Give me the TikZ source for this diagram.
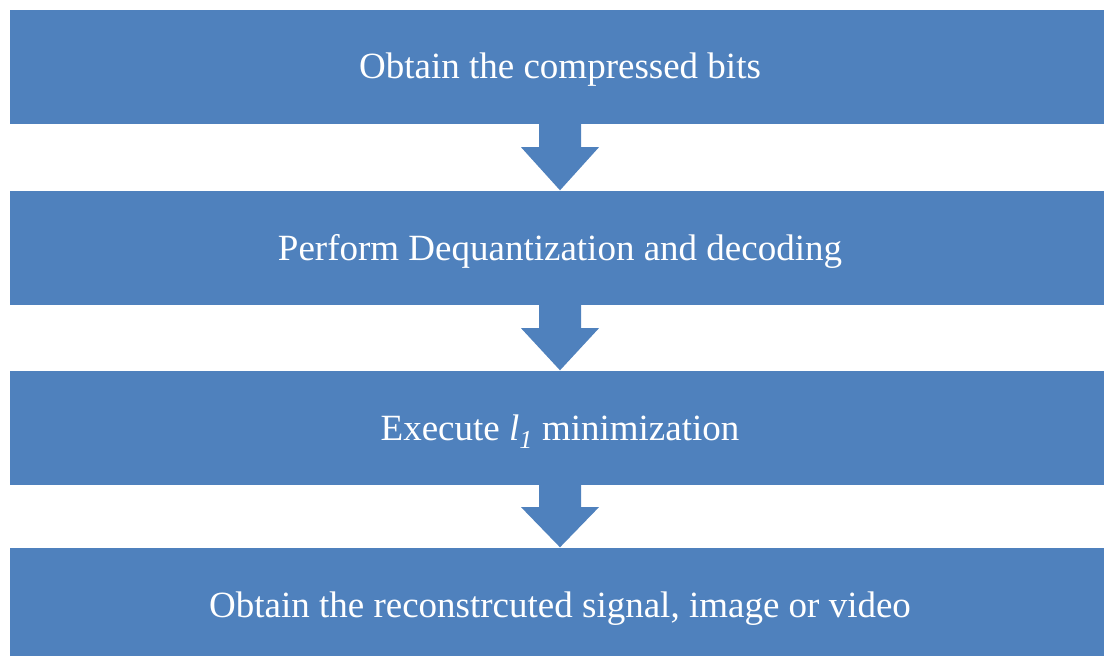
\documentclass[tikz,border=0pt]{standalone}
\usepackage{fontspec}
\setmainfont{Liberation Serif}
\usetikzlibrary{calc}
\definecolor{blockblue}{HTML}{4F81BD}
\tikzset{
  stepbox/.style={fill=blockblue, draw=none, minimum width=1100pt, minimum height=114pt,
    inner sep=0pt, text=white, font=\fontsize{37}{44}\selectfont,
    text height=24.5pt, text depth=0pt},
  downarrow/.style={fill=blockblue, draw=none}
}
\begin{document}
\begin{tikzpicture}[x=1pt,y=-1pt]
\useasboundingbox (0,0) rectangle (1104,656);
\node[stepbox] (b1) at (560,66.5) {Obtain the compressed bits};
\node[stepbox] (b2) at (560,248) {Perform Dequantization and decoding};
\node[stepbox] (b3) at (560,428) {Execute \textit{l}\textsubscript{\textit{1}} minimization};
\node[stepbox] (b4) at (560,605) {Obtain the reconstrcuted signal, image or video};
\foreach \a/\b in {b1/b2,b2/b3,b3/b4}{
  \coordinate (sh) at ($(\a.south)!0.35!(\b.north)$);
  \fill[downarrow] ($(\a.south)+(-21,0)$) -- ($(\a.south)+(21,0)$) -- (sh -| {$(\a.south)+(21,0)$}) --
    ($(sh)+(39,0)$) -- ($(\b.north)+(0,-0.5)$) -- ($(sh)+(-39,0)$) --
    (sh -| {$(\a.south)+(-21,0)$}) -- cycle;
}
\end{tikzpicture}
\end{document}
